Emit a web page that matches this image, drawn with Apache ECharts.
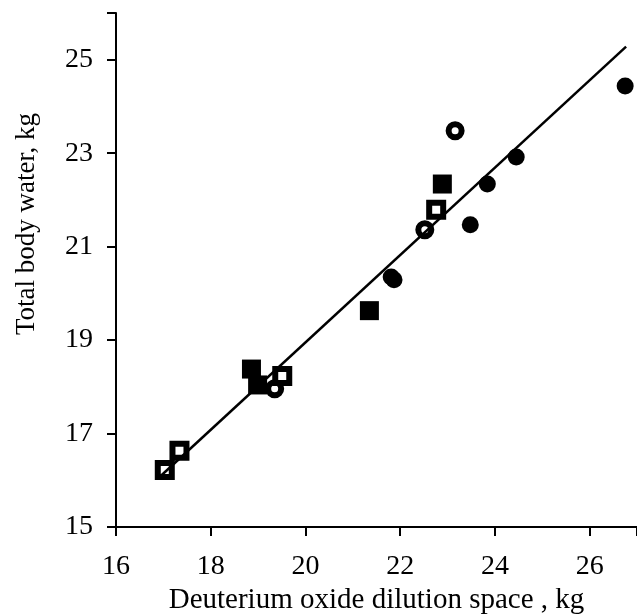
<!DOCTYPE html>
<html>
<head>
<meta charset="UTF-8" />
<title>Total body water vs deuterium oxide dilution space</title>
<style>
  html, body { margin: 0; padding: 0; background: #fff; }
  #chart { width: 637px; height: 614px; }
</style>
</head>
<body>
<div id="chart"></div>
<script src="https://cdn.jsdelivr.net/npm/echarts@6/dist/echarts.min.js"></script>
<script>
  // points: [D2O space, TBW]
  const openSquares = [[17.03, 16.22], [17.34, 16.63], [19.51, 18.23], [22.76, 21.79]];
  const filledSquares = [[18.86, 18.38], [18.99, 18.04], [21.35, 19.63], [22.89, 22.34]];
  const openCircles = [[19.35, 17.96], [22.52, 21.36], [23.16, 23.48]];
  const filledCircles = [[21.81, 20.35], [21.87, 20.29], [23.48, 21.47], [23.84, 22.34], [24.45, 22.92], [26.75, 24.44]];
  // regression line ends
  const fitLine = [[16.92, 16.07], [26.77, 25.28]];

  const xTicks = [16, 18, 20, 22, 24, 26];
  const yTicks = [15, 17, 19, 21, 23, 25];

  const font = 'Liberation Serif';
  const chart = echarts.init(document.getElementById('chart'));

  const hollow = (data, symbol, size) => ({
    type: 'scatter',
    data: data,
    symbol: symbol,
    symbolSize: size,
    itemStyle: { color: 'rgba(0,0,0,0)', borderColor: '#000', borderWidth: 6, opacity: 1 },
    z: 3
  });
  const solid = (data, symbol, size) => ({
    type: 'scatter',
    data: data,
    symbol: symbol,
    symbolSize: size,
    itemStyle: { color: '#000', opacity: 1 },
    z: 3
  });

  chart.setOption({
    animation: false,
    grid: { left: 116, right: 0, top: 13, bottom: 87, outerBoundsMode: 'none' },
    xAxis: {
      type: 'value',
      min: 16, max: 27, interval: 2,
      name: 'Deuterium oxide dilution space , kg',
      nameLocation: 'middle',
      nameGap: 59,
      nameTextStyle: { fontFamily: font, fontSize: 29, color: '#000' },
      splitLine: { show: false },
      axisLine: { lineStyle: { color: '#000', width: 2 } },
      axisTick: { length: 9, lineStyle: { color: '#000', width: 2 } },
      axisLabel: {
        fontFamily: font, fontSize: 28, color: '#000', margin: 26,
        formatter: v => xTicks.includes(v) ? String(v) : ''
      }
    },
    yAxis: {
      type: 'value',
      min: 15, max: 26, interval: 2,
      name: 'Total body water, kg',
      nameLocation: 'middle',
      nameGap: 76,
      // title sits above the axis middle in the original
      nameTextStyle: { fontFamily: font, fontSize: 27, color: '#000', padding: [0, 0, 0, 92] },
      splitLine: { show: false },
      axisLine: { lineStyle: { color: '#000', width: 2 } },
      axisTick: { length: 9, lineStyle: { color: '#000', width: 2 } },
      axisLabel: {
        fontFamily: font, fontSize: 28, color: '#000', margin: 23,
        formatter: v => yTicks.includes(v) ? String(v) : ''
      }
    },
    series: [
      {
        type: 'line',
        data: fitLine,
        symbol: 'none',
        lineStyle: { color: '#000', width: 2.5 },
        z: 2
      },
      solid(filledSquares, 'rect', 19),
      solid(filledCircles, 'circle', 17),
      hollow(openSquares, 'rect', 14),
      hollow(openCircles, 'circle', 13)
    ]
  });
</script>
</body>
</html>
